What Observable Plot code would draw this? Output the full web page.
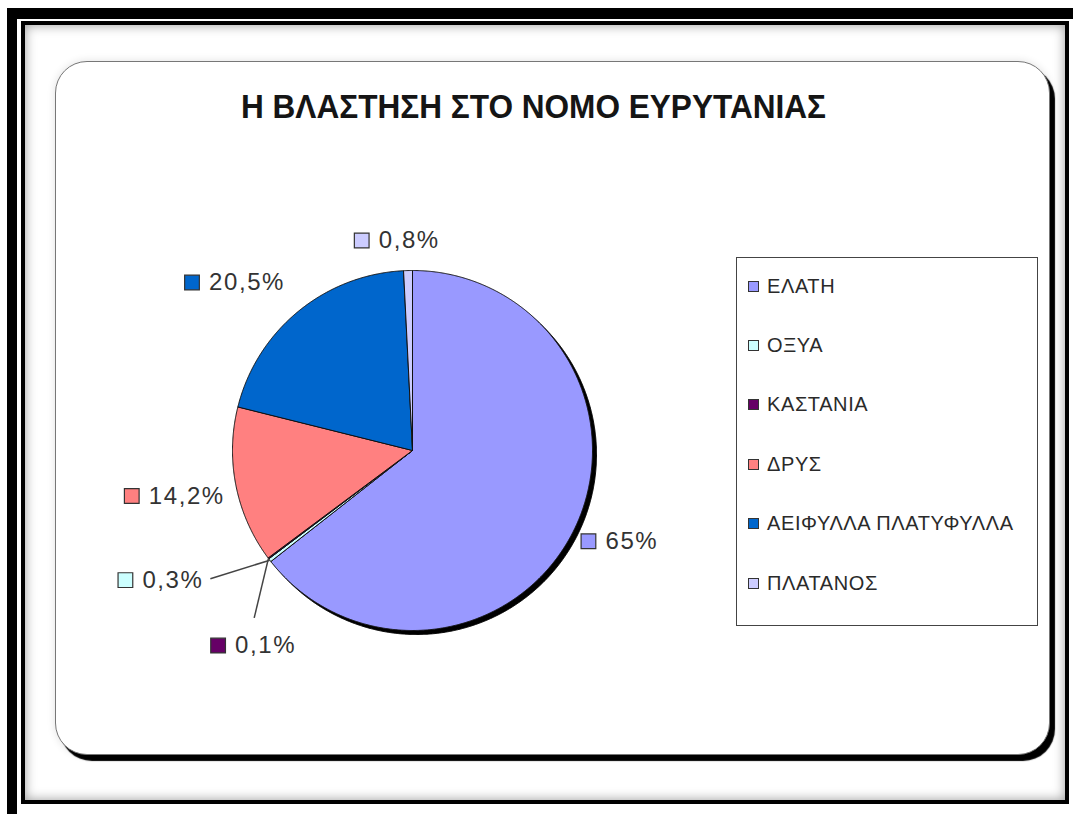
<!DOCTYPE html>
<html>
<head>
<meta charset="utf-8">
<script src="https://cdn.jsdelivr.net/npm/d3@7"></script>
<script src="https://cdn.jsdelivr.net/npm/@observablehq/plot@0.6"></script>
<style>
  html, body { margin: 0; padding: 0; background: #fff; }
  #page { position: relative; width: 1073px; height: 814px; overflow: hidden; background: #fff;
          font-family: "Liberation Sans", Arial, sans-serif; }
  .abs { position: absolute; box-sizing: border-box; }
  #outerFrame { left: 7px; top: 8px; width: 1090px; height: 820px;
                border-left: 10px solid #000; border-top: 11px solid #000; border-bottom: 14px solid #000; }
  #innerFrame { left: 21px; top: 21px; width: 1048px; height: 783px; border: 4px solid #000;
                box-shadow: inset 0 0 12px rgba(0,0,0,0.4); background: #fff; }
  #card { left: 55px; top: 61px; width: 995px; height: 694px; border: 1.5px solid #777; border-radius: 32px;
          box-shadow: 5px 6px 1px #000, 0 0 8px rgba(0,0,0,0.12); background: #fff; }
  #title { left: 241px; top: 88px; white-space: nowrap; font-weight: bold; font-size: 33px; color: #151515;
           transform-origin: 0 0; line-height: 38px; }
  #plot { left: 0; top: 0; }
  #legend { left: 736px; top: 257px; width: 302px; height: 369px; border: 1.5px solid #444; background: #fff; }
  .lg-item { position: absolute; left: 11px; height: 22px; display: flex; align-items: center; }
  .lg-sw { width: 11px; height: 11px; border: 1px solid #333; box-sizing: border-box; margin-right: 8px; }
  .lg-tx { font-size: 20px; letter-spacing: 0.6px; color: #2a2a2a; white-space: nowrap; }
</style>
</head>
<body>
<div id="page">
  <div id="outerFrame" class="abs"></div>
  <div id="innerFrame" class="abs"></div>
  <div id="card" class="abs"></div>
  <div id="title" class="abs"></div>
  <div id="plot" class="abs"></div>
  <div id="legend" class="abs"></div>
</div>
<script>
// ---- data ----
const title = "Η ΒΛΑΣΤΗΣΗ ΣΤΟ ΝΟΜΟ ΕΥΡΥΤΑΝΙΑΣ";
const categories = ["ΕΛΑΤΗ", "ΟΞΥΑ", "ΚΑΣΤΑΝΙΑ", "ΔΡΥΣ", "ΑΕΙΦΥΛΛΑ ΠΛΑΤΥΦΥΛΛΑ", "ΠΛΑΤΑΝΟΣ"];
const values = [65, 0.3, 0.1, 14.2, 20.5, 0.8];
const valueLabels = ["65%", "0,3%", "0,1%", "14,2%", "20,5%", "0,8%"];
const colors = ["#9999FF", "#CCFFFF", "#660066", "#FF8080", "#0066CC", "#CCCCFF"];

// ---- layout (label placement, in degrees clockwise from 12 o'clock and radius multiples) ----
const labelAngle = [117.3, 245.7, 224.9, 260.8, 307.3, 346.4];
const labelRadius = [1.10, 1.75, 1.53, 1.58, 1.54, 1.20];
const leaderAngle = [null, 237.6, 223.4, null, null, null];
const leaderRadius = [null, 1.33, 1.28, null, null, null];

const cx = 412, cy = 450, R = 180;
const rad = d => d * Math.PI / 180;

// slices via d3.pie (0 = 12 o'clock, clockwise)
const arcs = d3.pie().sort(null).value((d, i) => values[i])(categories);
const slicePts = [];
arcs.forEach((a, i) => {
  const n = Math.max(2, Math.ceil((a.endAngle - a.startAngle) / 0.005));
  slicePts.push({name: categories[i], x: 0, y: 0});
  for (let k = 0; k <= n; k++) {
    const t = a.startAngle + (a.endAngle - a.startAngle) * k / n;
    slicePts.push({name: categories[i], x: Math.sin(t), y: Math.cos(t)});
  }
  slicePts.push({name: categories[i], x: 0, y: 0});
});

const labels = categories.map((c, i) => ({
  name: c, text: valueLabels[i],
  x: labelRadius[i] * Math.sin(rad(labelAngle[i])),
  y: labelRadius[i] * Math.cos(rad(labelAngle[i]))
}));

const leaders = [];
categories.forEach((c, i) => {
  if (leaderAngle[i] == null) return;
  const mid = (arcs[i].startAngle + arcs[i].endAngle) / 2;
  leaders.push({
    x1: Math.sin(mid), y1: Math.cos(mid),
    x2: leaderRadius[i] * Math.sin(rad(leaderAngle[i])),
    y2: leaderRadius[i] * Math.cos(rad(leaderAngle[i]))
  });
});

const chart = Plot.plot({
  width: 1073, height: 814,
  margin: 0,
  style: {background: "transparent", letterSpacing: "1.6px", fontFamily: "'Liberation Sans', Arial, sans-serif"},
  x: {domain: [-1, 1], range: [cx - R, cx + R], axis: null},
  y: {domain: [-1, 1], range: [cy + R, cy - R], axis: null},
  color: {type: "ordinal", domain: categories, range: colors},
  marks: [
    Plot.line(slicePts, {x: "x", y: "y", z: "name", fill: "#000", stroke: "#000", strokeWidth: 1, dx: 4, dy: 4, curve: "linear"}),
    Plot.line(slicePts, {x: "x", y: "y", z: "name", fill: "name", stroke: "#111", strokeWidth: 1, curve: "linear", strokeLinejoin: "miter"}),
    Plot.link(leaders, {x1: "x1", y1: "y1", x2: "x2", y2: "y2", stroke: "#444", strokeWidth: 1.5}),
    Plot.dot(labels, {x: "x", y: "y", fill: "name", symbol: "square", r: 8.3, stroke: "#333", strokeWidth: 1.2}),
    Plot.text(labels, {x: "x", y: "y", text: "text", dx: 17, textAnchor: "start", fontSize: 24, fill: "#333"})
  ]
});
document.getElementById("plot").appendChild(chart);

// title
const t = document.getElementById("title");
t.textContent = title;
const w = t.getBoundingClientRect().width;
t.style.transform = `scaleX(${585 / w})`;

// legend
const lg = document.getElementById("legend");
categories.forEach((c, i) => {
  const item = document.createElement("div");
  item.className = "lg-item";
  item.style.top = (28 - 11 + i * 59.4) + "px";
  const sw = document.createElement("div");
  sw.className = "lg-sw";
  sw.style.background = colors[i];
  const tx = document.createElement("span");
  tx.className = "lg-tx";
  tx.textContent = c;
  item.appendChild(sw); item.appendChild(tx);
  lg.appendChild(item);
});
</script>
</body>
</html>
